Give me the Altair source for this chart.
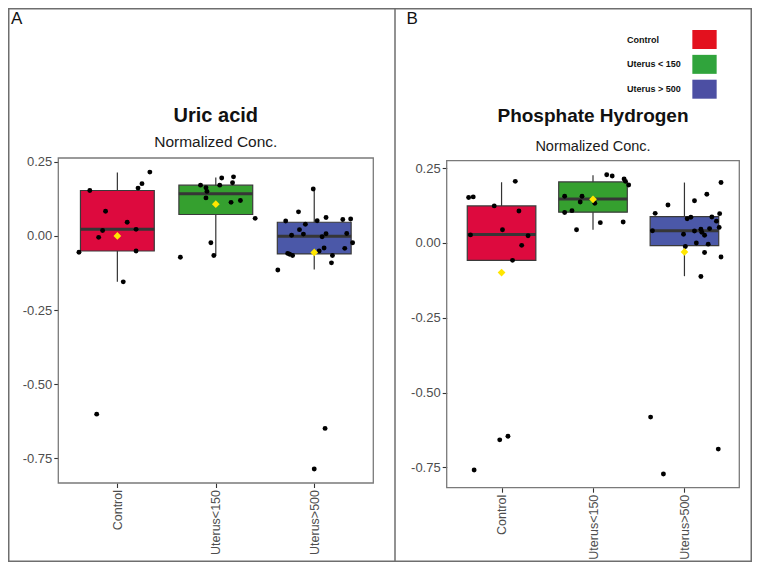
import altair as alt
import pandas as pd

# ---------------- data ----------------
groups = ["Control", "Uterus<150", "Uterus>500"]
legend_labels = ["Control", "Uterus < 150", "Uterus > 500"]
box_colors = ["#DD0A3E", "#35A02F", "#4B58A8"]
legend_colors = ["#E3111E", "#30A43C", "#4C4FA3"]
y_ticks = [-0.75, -0.5, -0.25, 0.0, 0.25]

# Panel A : Uric acid  (box statistics)
A_q1 = [-0.051, 0.072, -0.061]
A_med = [0.022, 0.142, -0.001]
A_q3 = [0.153, 0.171, 0.046]
A_lo = [-0.155, -0.066, -0.113]
A_hi = [0.214, 0.197, 0.158]
A_mean = [0.000, 0.107, -0.056]
# Panel A points (value, horizontal jitter)
A_control_y = [-0.055, 0.153, 0.083, -0.005, 0.018, 0.046, 0.022, -0.051, 0.161, 0.176, 0.215, -0.155, -0.601]
A_control_dx = [-0.39, -0.28, -0.12, -0.19, -0.15, 0.10, 0.19, 0.19, 0.21, 0.25, 0.33, 0.06, -0.21]
A_u150_y = [-0.072, 0.171, 0.162, 0.150, 0.128, -0.023, -0.066, 0.171, 0.195, 0.113, 0.179, 0.199, 0.119, 0.059]
A_u150_dx = [-0.36, -0.155, -0.10, -0.09, -0.10, -0.05, -0.02, 0.04, 0.06, 0.155, 0.17, 0.18, 0.25, 0.40]
A_u500_y = [-0.115, 0.050, -0.059, -0.062, -0.066, 0.002, 0.081, 0.021, 0.006, 0.039,
            0.158, 0.051, -0.003, 0.007, -0.041, 0.062, -0.051, -0.066, -0.091, 0.055,
            0.057, 0.008, -0.042, -0.023, -0.649, -0.786]
A_u500_dx = [-0.37, -0.29, -0.27, -0.25, -0.22, -0.23, -0.16, -0.15, -0.11, -0.09,
             -0.01, 0.03, 0.08, 0.12, 0.10, 0.12, 0.05, 0.185, 0.175, 0.29,
             0.37, 0.33, 0.31, 0.39, 0.11, 0.0]

# Panel B : Phosphate Hydrogen (box statistics)
B_q1 = [-0.058, 0.103, -0.009]
B_med = [0.028, 0.147, 0.041]
B_q3 = [0.124, 0.204, 0.088]
B_lo = [-0.058, 0.044, -0.111]
B_hi = [0.203, 0.226, 0.202]
B_mean = [-0.099, 0.146, -0.030]
B_control_y = [0.152, 0.154, 0.027, 0.124, 0.044, 0.206, 0.107, -0.008, 0.024, -0.058, -0.759, -0.658, -0.646]
B_control_dx = [-0.36, -0.31, -0.34, -0.08, 0.01, 0.15, 0.19, 0.22, 0.29, 0.12, -0.30, -0.02, 0.07]
B_u150_y = [0.156, 0.102, 0.108, 0.044, 0.137, 0.156, 0.133, 0.068, 0.228, 0.224, 0.070, 0.214, 0.206, 0.194]
B_u150_dx = [-0.31, -0.31, -0.23, -0.18, -0.14, -0.12, 0.02, 0.08, 0.15, 0.21, 0.33, 0.34, 0.355, 0.39]
B_u500_y = [0.041, 0.099, 0.127, 0.029, -0.012, 0.081, 0.086, 0.141, 0.040, 0.000,
            0.046, -0.112, 0.036, 0.026, -0.032, 0.163, -0.004, 0.048, 0.087, 0.073,
            0.052, 0.098, 0.202, -0.047, -0.582, -0.772, -0.689]
B_u500_dx = [-0.35, -0.32, -0.18, -0.01, 0.01, 0.03, 0.07, 0.11, 0.11, 0.13,
             0.18, 0.18, 0.19, 0.22, 0.22, 0.245, 0.26, 0.275, 0.30, 0.35,
             0.38, 0.385, 0.40, 0.40, -0.37, -0.23, 0.37]

# ---------------- layout (chart pixel coordinates) ----------------
W, H = 744, 554
XDOM = [0.4, 3.6]
A_XR, A_YR, A_YDOM = [50.3, 365.3], [475.0, 150.0], [-0.833, 0.2625]
B_XR, B_YR, B_YDOM = [438.7, 731.3], [479.7, 152.7], [-0.818, 0.275]
HALF = 0.375
FONT = "Liberation Sans"

label_expr_x = "[" + ",".join("'%s'" % g for g in groups) + "][datum.value - 1]"
label_expr_y = "(datum.value < 0 ? '-' : '') + format(abs(datum.value), '.2f')"


def panel(q1, med, q3, lo, hi, mean, pts, xr, yr, ydom, title, tsize, sub_size, t_y, s_y):
    xs = alt.Scale(domain=XDOM, range=xr, nice=False, zero=False)
    ys = alt.Scale(domain=ydom, range=yr, nice=False, zero=False)
    cs = alt.Scale(domain=groups, range=box_colors)
    stats = pd.DataFrame({"group": groups, "idx": [1, 2, 3], "q1": q1, "med": med,
                          "q3": q3, "lo": lo, "hi": hi, "mean": mean})
    stats["left"] = stats["idx"] - HALF
    stats["right"] = stats["idx"] + HALF
    rows = []
    for i, (vals, dxs) in enumerate(pts):
        for v, d in zip(vals, dxs):
            rows.append({"group": groups[i], "xp": i + 1 + d, "val": v})
    pdf = pd.DataFrame(rows)

    one = pd.DataFrame({"t": [""]})
    border = alt.Chart(one).mark_rect(fill=None, stroke="#7a7a7a", strokeWidth=1.3).encode(
        x=alt.value(xr[0]), x2=alt.value(xr[1]), y=alt.value(yr[1]), y2=alt.value(yr[0]))

    whisk = alt.Chart(stats).mark_rule(color="#333333", strokeWidth=1.2).encode(
        x=alt.X("idx:Q", scale=xs, axis=alt.Axis(
            orient="bottom", offset=yr[0] - H, values=[1, 2, 3], labelExpr=label_expr_x,
            labelAngle=-90, labelFontSize=12.5, labelColor="#4d4d4d", labelPadding=2,
            tickColor="#333333", tickSize=4.5, tickWidth=1.1, domain=False, grid=False,
            title=None, labelFont=FONT)),
        y=alt.Y("lo:Q", scale=ys, axis=alt.Axis(
            orient="left", offset=-xr[0], values=y_ticks, labelExpr=label_expr_y,
            labelFontSize=13, labelColor="#4d4d4d", labelPadding=2,
            tickColor="#333333", tickSize=4.5, tickWidth=1.1, domain=False, grid=False,
            title=None, labelFont=FONT)),
        y2="hi:Q")

    box = alt.Chart(stats).mark_bar(stroke="#3a3a3a", strokeWidth=1.2, opacity=1).encode(
        x=alt.X("left:Q", scale=xs, axis=None), x2="right:Q",
        y=alt.Y("q1:Q", scale=ys, axis=None), y2="q3:Q",
        color=alt.Color("group:N", scale=cs, legend=None))

    median = alt.Chart(stats).mark_rule(color="#363636", strokeWidth=3).encode(
        x=alt.X("left:Q", scale=xs, axis=None), x2="right:Q",
        y=alt.Y("med:Q", scale=ys, axis=None))

    points = alt.Chart(pdf).mark_circle(size=24, color="black", opacity=1).encode(
        x=alt.X("xp:Q", scale=xs, axis=None),
        y=alt.Y("val:Q", scale=ys, axis=None))

    means = alt.Chart(stats).mark_point(shape="diamond", filled=True, size=60,
                                        color="#FFE600", opacity=1).encode(
        x=alt.X("idx:Q", scale=xs, axis=None),
        y=alt.Y("mean:Q", scale=ys, axis=None))

    cx = (xr[0] + xr[1]) / 2
    ttl = alt.Chart(pd.DataFrame({"t": [title]})).mark_text(
        font=FONT, fontSize=tsize, fontWeight="bold", color="#111111", align="center",
        baseline="alphabetic").encode(text="t:N", x=alt.value(cx), y=alt.value(t_y))
    sub = alt.Chart(pd.DataFrame({"t": ["Normalized Conc."]})).mark_text(
        font=FONT, fontSize=sub_size, color="#1a1a1a", align="center",
        baseline="alphabetic").encode(text="t:N", x=alt.value(cx), y=alt.value(s_y))
    return [border, whisk, box, median, points, means, ttl, sub]


layers_A = panel(A_q1, A_med, A_q3, A_lo, A_hi, A_mean,
                 [(A_control_y, A_control_dx), (A_u150_y, A_u150_dx), (A_u500_y, A_u500_dx)],
                 A_XR, A_YR, A_YDOM, "Uric acid", 20, 15.5, 114, 139.3)
layers_B = panel(B_q1, B_med, B_q3, B_lo, B_hi, B_mean,
                 [(B_control_y, B_control_dx), (B_u150_y, B_u150_dx), (B_u500_y, B_u500_dx)],
                 B_XR, B_YR, B_YDOM, "Phosphate Hydrogen", 19, 14.5, 114.3, 142.7)

one = pd.DataFrame({"t": [""]})
frame = alt.Chart(one).mark_rect(fill=None, stroke="#6e6e6e", strokeWidth=1.5).encode(
    x=alt.value(0.75), x2=alt.value(W - 0.75), y=alt.value(0.75), y2=alt.value(H - 0.75))
divider = alt.Chart(one).mark_rule(color="#6e6e6e", strokeWidth=1.5).encode(
    x=alt.value(387), y=alt.value(0), y2=alt.value(H))
lab_A = alt.Chart(pd.DataFrame({"t": ["A"]})).mark_text(
    font=FONT, fontSize=17, color="#111111", align="left", baseline="alphabetic").encode(
    text="t:N", x=alt.value(3), y=alt.value(16))
lab_B = alt.Chart(pd.DataFrame({"t": ["B"]})).mark_text(
    font=FONT, fontSize=17, color="#111111", align="left", baseline="alphabetic").encode(
    text="t:N", x=alt.value(398.5), y=alt.value(15.5))

leg_df = pd.DataFrame({"label": legend_labels})
leg_y = alt.Scale(domain=legend_labels, range=[31.5, 81.2], padding=0)
leg_sq = alt.Chart(leg_df).mark_point(
    shape="M-1.28,-1H1.28V1H-1.28Z", filled=True, size=361, opacity=1).encode(
    x=alt.value(696.5),
    y=alt.Y("label:N", scale=leg_y, axis=None),
    color=alt.Color("label:N", scale=alt.Scale(domain=legend_labels, range=legend_colors),
                    legend=None))
leg_tx = alt.Chart(leg_df).mark_text(
    font=FONT, fontSize=9, fontWeight="bold", color="#111111",
    align="left", baseline="middle").encode(
    x=alt.value(619), y=alt.Y("label:N", scale=leg_y, axis=None), text="label:N")

chart = alt.layer(
    frame, divider, lab_A, lab_B, *layers_A, *layers_B, leg_sq, leg_tx
).resolve_scale(x="independent", y="independent", color="independent").properties(
    width=W, height=H, autosize=alt.AutoSizeParams(type="none"), padding=0
).configure_view(stroke=None).configure(font=FONT)

chart.save("out.html", embed_options={"renderer": "svg", "actions": False})
